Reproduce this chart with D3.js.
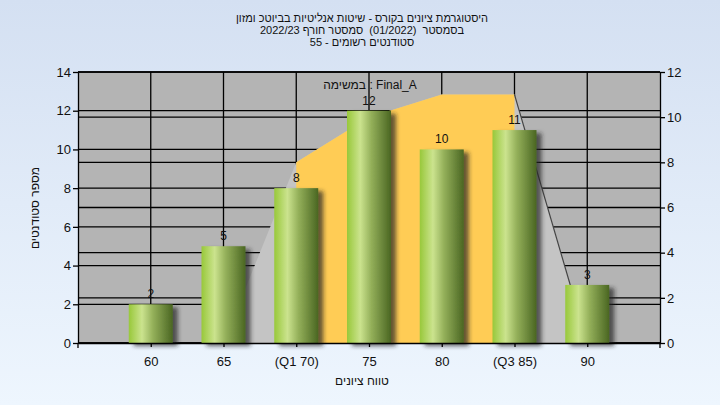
<!DOCTYPE html>
<html><head><meta charset="utf-8">
<script src="https://cdn.jsdelivr.net/npm/d3@7"></script>
<style>
html,body{margin:0;padding:0;}
svg{display:block;font-family:"Liberation Sans",Arial,sans-serif;}
</style></head>
<body>
<svg id="c" width="720" height="405"></svg>
<script>
const categories = ["60","65","(Q1 70)","75","80","(Q3 85)","90"];
const counts = [2,5,8,12,10,11,3];
const areaValues = [0,0,8,10,11,11,0];
const leftTicks = [0,2,4,6,8,10,12,14];
const rightTicks = [0,2,4,6,8,10,12];
const titleLines = ["היסטוגרמת ציונים בקורס - שיטות אנליטיות בביוטכ ומזון","בסמסטר  (01/2022)  סמסטר חורף 2022/23","סטודנטים רשומים - 55"];
const seriesLabel = "במשימה : Final_A";
const xTitle = "טווח ציונים";
const yTitle = "מספר סטודנטים";
const q1Cat = "(Q1 70)", q3Cat = "(Q3 85)";

const svg = d3.select("#c");
const L=78,R=660,T=72,B=343;
const defs = svg.append("defs");
const bg = defs.append("linearGradient").attr("id","bg").attr("x1",0).attr("y1",0).attr("x2",0).attr("y2",1);
bg.append("stop").attr("offset","0%").attr("stop-color","#d4e0f2");
bg.append("stop").attr("offset","100%").attr("stop-color","#eef6fe");
const bar = defs.append("linearGradient").attr("id","bar").attr("x1",0).attr("y1",0).attr("x2",1).attr("y2",0);
[["0%","#98c83a"],["30%","#cbe38e"],["55%","#94b05a"],["100%","#4a6622"]].forEach(s=>bar.append("stop").attr("offset",s[0]).attr("stop-color",s[1]));
const f = defs.append("filter").attr("id","sh").attr("x","-20%").attr("y","-20%").attr("width","150%").attr("height","150%");
f.append("feDropShadow").attr("dx",5).attr("dy",3).attr("stdDeviation",2).attr("flood-color","#222").attr("flood-opacity",0.7);

svg.append("rect").attr("width",720).attr("height",405).attr("fill","url(#bg)");

const x = d3.scalePoint().domain(categories).range([L,R]).padding(1);
const yL = d3.scaleLinear().domain([0,14]).range([B,T]);
const yR = d3.scaleLinear().domain([0,12]).range([B,T]);

svg.append("rect").attr("x",L).attr("y",T).attr("width",R-L).attr("height",B-T).attr("fill","#b4b4b4");

const grid = svg.append("g").attr("stroke","#000").attr("stroke-width",1.3);
leftTicks.forEach(v=>grid.append("line").attr("x1",L).attr("x2",R).attr("y1",yL(v)).attr("y2",yL(v)));
rightTicks.forEach(v=>grid.append("line").attr("x1",L).attr("x2",R).attr("y1",yR(v)).attr("y2",yR(v)));
categories.forEach(c=>grid.append("line").attr("x1",x(c)).attr("x2",x(c)).attr("y1",T).attr("y2",B));

const pts = categories.map((c,i)=>[x(c),yR(areaValues[i])]);
const area = d3.area().x(d=>d[0]).y0(B).y1(d=>d[1]);
svg.append("path").attr("d",area(pts)).attr("fill","#c4c4c4");
defs.append("clipPath").attr("id","q").append("rect").attr("x",x(q1Cat)).attr("y",T).attr("width",x(q3Cat)-x(q1Cat)).attr("height",B-T);
svg.append("path").attr("d",area(pts)).attr("fill","#ffcc55").attr("clip-path","url(#q)");
svg.append("path").attr("d",d3.line()(pts.slice(5))).attr("stroke","#444").attr("stroke-width",1.2).attr("fill","none");

svg.append("text").attr("x",370).attr("y",89).attr("text-anchor","middle").attr("font-size",12).attr("fill","#111").attr("direction","ltr").style("white-space","pre").text(seriesLabel);

const bw=44;
svg.append("g").selectAll("rect").data(counts).join("rect")
  .attr("x",(d,i)=>x(categories[i])-bw/2).attr("y",d=>yL(d))
  .attr("width",bw).attr("height",d=>B-yL(d)).attr("fill","url(#bar)").attr("filter","url(#sh)");
svg.append("g").selectAll("text").data(counts).join("text")
  .attr("x",(d,i)=>x(categories[i])).attr("y",d=>yL(d)-6)
  .attr("text-anchor","middle").attr("font-size",12).attr("fill","#111").text(d=>d);

// axes
const ax = svg.append("g").attr("font-size",13);
const aL = ax.append("g").attr("transform",`translate(${L},0)`).call(d3.axisLeft(yL).tickValues(leftTicks).tickSize(5).tickSizeOuter(0));
const aR = ax.append("g").attr("transform",`translate(${R},0)`).call(d3.axisRight(yR).tickValues(rightTicks).tickSize(5).tickSizeOuter(0));
const aB = ax.append("g").attr("transform",`translate(0,${B})`).call(d3.axisBottom(x).tickSize(4).tickSizeOuter(0));
[aL,aR,aB].forEach(a=>{a.selectAll("path,line").attr("stroke","#000").attr("stroke-width",1.3);a.selectAll("text").attr("fill","#111").attr("font-family","Liberation Sans, Arial, sans-serif").attr("font-size",13);});
aB.selectAll("text").attr("dy","1.25em");
aL.selectAll("text").attr("x",-7);
aR.selectAll("text").attr("x",7);
ax.append("line").attr("x1",L).attr("x2",L).attr("y1",B).attr("y2",B+5).attr("stroke","#000").attr("stroke-width",1.3);
ax.append("line").attr("x1",R).attr("x2",R).attr("y1",B).attr("y2",B+5).attr("stroke","#000").attr("stroke-width",1.3);

svg.append("g").selectAll("text").data(titleLines).join("text")
  .attr("x",362).attr("y",(d,i)=>22+i*12.2).attr("text-anchor","middle").attr("direction","rtl")
  .style("white-space","pre")
  .attr("font-size",11).attr("fill","#111").text(d=>d);
svg.append("text").attr("x",362).attr("y",385).attr("text-anchor","middle").attr("direction","rtl").attr("font-size",12).attr("fill","#111").text(xTitle);
svg.append("text").attr("transform","translate(39,208) rotate(-90)").attr("text-anchor","middle").attr("direction","rtl").attr("font-size",12).attr("fill","#111").text(yTitle);
</script>
</body></html>
